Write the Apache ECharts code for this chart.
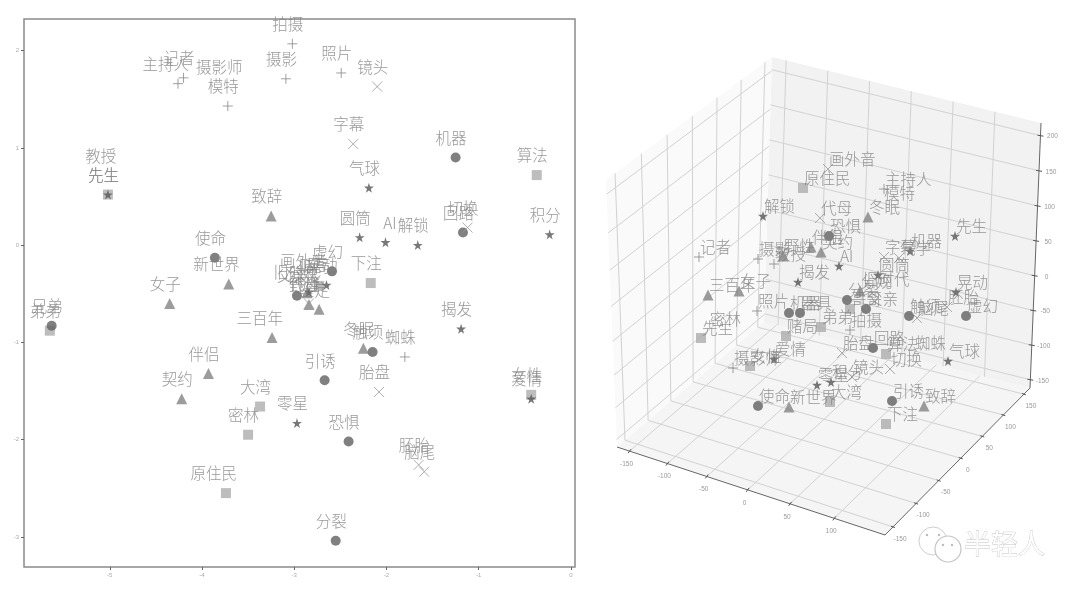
<!DOCTYPE html>
<html><head><meta charset="utf-8">
<style>html,body{margin:0;padding:0;background:#fff}#c{width:1080px;height:594px}</style>
<script src="https://cdn.jsdelivr.net/npm/echarts@6/dist/echarts.min.js"></script>
</head><body><div id="c"></div>
<script>
// ---------- 2D panel: [word, dim1, dim2]
const flatCircles = [['机器',-1.25,0.90],['回路',-1.17,0.13],['使命',-3.86,-0.13],['虚幻',-2.59,-0.27],['触须',-2.15,-1.10],['引诱',-2.67,-1.39],['恐惧',-2.41,-2.02],['分裂',-2.55,-3.04],['兄弟',-5.63,-0.83],['父亲',-2.97,-0.52]];
const flatTriangles = [['致辞',-3.25,0.30],['女子',-4.35,-0.60],['三百年',-3.24,-0.95],['伴侣',-3.93,-1.32],['契约',-4.22,-1.58],['新世界',-3.71,-0.40],['冬眠',-2.25,-1.06],['野性',-2.84,-0.61],['鉴定',-2.73,-0.66],['分娩',-2.86,-0.49]];
const flatSquares = [['算法',-0.37,0.72],['原住民',-3.74,-2.55],['大湾',-3.37,-1.66],['密林',-3.50,-1.95],['下注',-2.17,-0.39],['先生',-5.02,0.52],['女性',-0.43,-1.54],['弟弟',-5.65,-0.88],['赌局',-2.73,-0.42]];
const flatStars = [['气球',-2.19,0.59],['圆筒',-2.29,0.08],['AI',-2.01,0.03],['解锁',-1.66,0.00],['积分',-0.23,0.11],['揭发',-1.19,-0.86],['零星',-2.97,-1.83],['先生',-5.02,0.52],['爱情',-0.43,-1.58],['晃动',-2.65,-0.41],['旧时代',-2.84,-0.48]];
const flatCrosses = [['镜头',-2.10,1.63],['字幕',-2.36,1.04],['切换',-1.12,0.18],['胚胎',-1.65,-2.26],['脑尾',-1.59,-2.33],['胎盘',-2.08,-1.51],['画外音',-2.77,-0.36],['代母',-2.84,-0.60]];
const flatPluses = [['拍摄',-3.02,2.07],['记者',-4.20,1.72],['主持人',-4.26,1.66],['摄影',-3.09,1.71],['照片',-2.49,1.77],['模特',-3.72,1.43],['蜘蛛',-1.80,-1.15]];
const flatUnmarked = [['教授',-5.05,0.71],['摄影师',-3.68,1.63]];
const flatTicksX = [-5,-4,-3,-2,-1,0];
const flatTicksY = [-3,-2,-1,0,1,2];

// ---------- 3D panel: words with their projected position on the picture plane
const deepCircles = [['使命',758,406],['机器',789,313],['器具',800,313],['恐惧',829,236],['分裂',847,300],['父亲',866,309],['触须',909,316],['虚幻',966,316],['回路',873,348],['引诱',892,401]];
const deepTriangles = [['冬眠',868,217],['三百年',708,295],['女子',739,291],['新世界',789,407],['伴侣',811,247],['野性',783,256],['契约',821,252],['致辞',924,406],['分娩',860,291]];
const deepSquares = [['原住民',803,188],['先生',701,338],['赌局',786,336],['弟弟',821,327],['哥哥',850,309],['女性',750,366],['大湾',830,402],['算法',886,354],['下注',886,424]];
const deepStars = [['解锁',763,216],['先生',955,236],['AI',839,266],['揭发',798,282],['圆筒',878,275],['晃动',956,292],['气球',948,361],['零星',817,385],['积分',831,382],['爱情',774,359],['机器',910,251]];
const deepCrosses = [['画外音',828,169],['代母',820,218],['切换',890,369],['胎盘',842,353],['脑尾',917,318],['胚胎',947,307],['镜头',852,377],['字幕',884,257],['气学',899,258]];
const deepPluses = [['记者',699,257],['主持人',884,189],['摄影',758,259],['教授',774,264],['照片',757,311],['摄影师',733,368],['拍摄',850,330]];
const deepUnmarked = [['密林',709,329],['模特',883,203],['旧时代',862,289],['蜘蛛',914,353]];
const deepTicksX = [-150,-100,-50,0,50,100];
const deepTicksY = [-150,-100,-50,0,50,100,150];
const deepTicksZ = [-150,-100,-50,0,50,100,150,200];
const deepLimX = [-167,155], deepLimY = [-167,165], deepLimZ = [-162,218];

// ---------- 3D box: corners of its three panes on the picture plane
const floorQuad = [[617,447],[885,535],[1030,388],[764,322]];
const backQuad  = [[764,322],[1030,388],[1041,123],[772,57]];
const sideQuad  = [[617,447],[764,322],[772,57],[606,180]];

function quadMap(q){
  const [[x0,y0],[x1,y1],[x2,y2],[x3,y3]] = q;
  const dx1=x1-x2, dx2=x3-x2, sx=x0-x1+x2-x3, dy1=y1-y2, dy2=y3-y2, sy=y0-y1+y2-y3;
  const den=dx1*dy2-dx2*dy1, g=(sx*dy2-dx2*sy)/den, h=(dx1*sy-sx*dy1)/den;
  const a=x1-x0+g*x1, b=x3-x0+h*x3, d=y1-y0+g*y1, e=y3-y0+h*y3;
  return (u,v)=>{const w=g*u+h*v+1; return [(a*u+b*v+x0)/w,(d*u+e*v+y0)/w];};
}
const norm=(v,l)=>(v-l[0])/(l[1]-l[0]);
const floorAt=(x,y)=>quadMap(floorQuad)(norm(x,deepLimX),norm(y,deepLimY));
const backAt=(x,z)=>quadMap(backQuad)(norm(x,deepLimX),norm(z,deepLimZ));
const sideAt=(y,z)=>quadMap(sideQuad)(norm(y,deepLimY),norm(z,deepLimZ));

const gridSegs=[];
deepTicksX.forEach(t=>{gridSegs.push([...floorAt(t,deepLimY[0]),...floorAt(t,deepLimY[1])]);
  gridSegs.push([...backAt(t,deepLimZ[0]),...backAt(t,deepLimZ[1])]);});
deepTicksY.forEach(t=>{gridSegs.push([...floorAt(deepLimX[0],t),...floorAt(deepLimX[1],t)]);
  gridSegs.push([...sideAt(t,deepLimZ[0]),...sideAt(t,deepLimZ[1])]);});
deepTicksZ.forEach(t=>{gridSegs.push([...backAt(deepLimX[0],t),...backAt(deepLimX[1],t)]);
  gridSegs.push([...sideAt(deepLimY[0],t),...sideAt(deepLimY[1],t)]);});

const edgeSegs=[[...floorQuad[0],...floorQuad[1]],[...floorQuad[1],...floorQuad[2]],[...backQuad[1],...backQuad[2]]];
const tickSegs=[], tickTexts=[];
deepTicksX.forEach(t=>{const p=floorAt(t,deepLimY[0]); tickSegs.push([p[0]-1.5,p[1]+2,p[0]+1.5,p[1]-2]); tickTexts.push([p[0]-3,p[1]+13,t]);});
deepTicksY.forEach(t=>{const p=floorAt(deepLimX[1],t); tickSegs.push([p[0]-2,p[1]-.7,p[0]+2,p[1]+.7]); tickTexts.push([p[0]+7,p[1]+12,t]);});
deepTicksZ.forEach(t=>{const p=backAt(deepLimX[1],t); tickSegs.push([p[0]-3,p[1]-.5,p[0]+3,p[1]+.5]); tickTexts.push([p[0]+12,p[1]+1,t]);});

const FONT='"Noto Sans CJK SC","Noto Sans CJK JP",sans-serif';
const STAR='path://M50 0L61 35H98L68 57L79 91L50 70L21 91L32 57L2 35H39Z';
const PLUS='path://M0 50H100M50 0V100';
const CROSS='path://M0 0L100 100M100 0L0 100';

const marks={
  circle:{symbol:'circle',symbolSize:10,itemStyle:{color:'#606060'}},
  triangle:{symbol:'triangle',symbolSize:11,itemStyle:{color:'#838383'}},
  square:{symbol:'rect',symbolSize:10,itemStyle:{color:'#adadad'}},
  star:{symbol:STAR,symbolSize:10,itemStyle:{color:'#555'}},
  cross:{symbol:CROSS,symbolSize:10,itemStyle:{color:'rgba(0,0,0,0)',borderColor:'#999',borderWidth:1}},
  plus:{symbol:PLUS,symbolSize:10,itemStyle:{color:'rgba(0,0,0,0)',borderColor:'#888',borderWidth:1}},
  blank:{symbol:'circle',symbolSize:1,itemStyle:{color:'rgba(0,0,0,0)'}}
};
function pts(rows,mark,panel){
  const flat=panel===0;
  return Object.assign({type:'scatter',xAxisIndex:panel,yAxisIndex:panel,silent:true,animation:false,z:3,
    data:rows.map(r=>({name:r[0],value:[r[1],r[2]]})),
    label:{show:true,position:'inside',formatter:'{b}',fontFamily:FONT,fontWeight:300,fontSize:15.5,color:'#808080',
      align:flat?'right':'left',verticalAlign:'middle',offset:flat?[11,-19.5]:[1,-9.5]},
    emphasis:{disabled:true}},marks[mark]);
}
function segSeries(segs,color,width,z){
  return {type:'custom',xAxisIndex:1,yAxisIndex:1,silent:true,animation:false,z,clip:false,
    data:segs,renderItem:(p,api)=>{
      const a=api.coord([api.value(0),api.value(1)]), b=api.coord([api.value(2),api.value(3)]);
      return {type:'line',shape:{x1:a[0],y1:a[1],x2:b[0],y2:b[1]},style:{stroke:color,lineWidth:width}};
    }};
}
const paneRows=[[floorQuad,'#f5f5f5'],[backQuad,'#f2f2f2'],[sideQuad,'#fafafa']];
const series=[
  {type:'custom',xAxisIndex:1,yAxisIndex:1,silent:true,animation:false,z:0,clip:false,
   data:paneRows.map(r=>r[0].flat()),
   renderItem:(p,api)=>({type:'polygon',
     shape:{points:paneRows[p.dataIndex][0].map(c=>api.coord(c))},
     style:{fill:paneRows[p.dataIndex][1]}})},
  segSeries(gridSegs,'#d2d2d2',1,1),
  segSeries(edgeSegs,'#666',1,2),
  segSeries(tickSegs,'#555',1,2),
  {type:'custom',xAxisIndex:1,yAxisIndex:1,silent:true,animation:false,z:2,clip:false,
   data:tickTexts,
   renderItem:(p,api)=>{const c=api.coord([api.value(0),api.value(1)]);
     return {type:'text',x:c[0],y:c[1],style:{text:String(tickTexts[p.dataIndex][2]),align:'center',verticalAlign:'middle',
       font:'6.5px "Liberation Sans",sans-serif',fill:'#999'}};}},
  pts(flatSquares,'square',0),pts(flatTriangles,'triangle',0),pts(flatCircles,'circle',0),pts(flatStars,'star',0),pts(flatCrosses,'cross',0),pts(flatPluses,'plus',0),pts(flatUnmarked,'blank',0),
  pts(deepSquares,'square',1),pts(deepTriangles,'triangle',1),pts(deepCircles,'circle',1),pts(deepStars,'star',1),pts(deepCrosses,'cross',1),pts(deepPluses,'plus',1),pts(deepUnmarked,'blank',1)
];
const flatTickLabel={fontSize:6,color:'#aaa',fontFamily:'"Liberation Sans",sans-serif',margin:5};
const option={
  backgroundColor:'#fff',animation:false,
  grid:[
    {left:24,top:19,width:551,height:548,show:true,borderColor:'#8a8a8a',borderWidth:1.5,backgroundColor:'transparent',containLabel:false},
    {left:0,top:0,width:1080,height:594,show:false}
  ],
  xAxis:[
    {type:'value',gridIndex:0,position:'bottom',min:-5.93,max:0.045,splitLine:{show:false},axisLine:{show:false,onZero:false},
     axisTick:{show:true,inside:false,length:3,lineStyle:{color:'#666'},customValues:flatTicksX},
     axisLabel:Object.assign({showMinLabel:true,showMaxLabel:true,customValues:flatTicksX},flatTickLabel)},
    {type:'value',gridIndex:1,min:0,max:1080,show:false}
  ],
  yAxis:[
    {type:'value',gridIndex:0,position:'left',min:-3.31,max:2.325,splitLine:{show:false},axisLine:{show:false,onZero:false},
     axisTick:{show:true,inside:false,length:3,lineStyle:{color:'#666'},customValues:flatTicksY},
     axisLabel:Object.assign({showMinLabel:true,showMaxLabel:true,customValues:flatTicksY},flatTickLabel)},
    {type:'value',gridIndex:1,min:0,max:594,inverse:true,show:false}
  ],
  series,
  graphic:[
    {type:'group',silent:true,z:10,children:[
      {type:'circle',shape:{cx:933,cy:541,r:14},style:{fill:'#fff',stroke:'#cfcfcf',lineWidth:1}},
      {type:'circle',shape:{cx:948,cy:549,r:13},style:{fill:'#fff',stroke:'#c4c4c4',lineWidth:1.2}},
      {type:'circle',shape:{cx:927,cy:535,r:1.2},style:{fill:'#bbb'}},
      {type:'circle',shape:{cx:939,cy:535,r:1.2},style:{fill:'#bbb'}},
      {type:'circle',shape:{cx:943,cy:545,r:1.2},style:{fill:'#bbb'}},
      {type:'circle',shape:{cx:952,cy:545,r:1.2},style:{fill:'#bbb'}},
      {type:'text',x:964,y:530,style:{text:'半轻人',font:'27px '+FONT,fill:'#fff',stroke:'#c4c4c4',lineWidth:.8}}
    ]}
  ]
};
const chart=echarts.init(document.getElementById('c'),null,{renderer:'canvas'});
chart.setOption(option);
</script></body></html>
